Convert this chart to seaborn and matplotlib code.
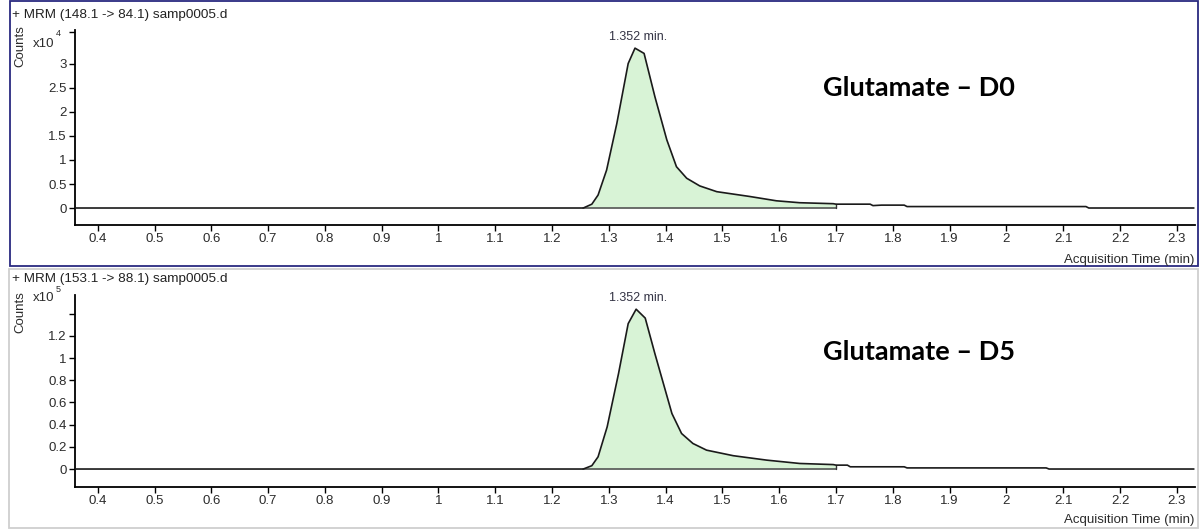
import matplotlib
matplotlib.use("Agg")
import matplotlib.pyplot as plt
import seaborn as sns
import numpy as np
import pandas as pd
from matplotlib.patches import Rectangle
from matplotlib.ticker import FixedLocator, FuncFormatter

# ---------------- data ----------------
titles = ["+ MRM (148.1 -> 84.1) samp0005.d", "+ MRM (153.1 -> 88.1) samp0005.d"]
labels = ["Glutamate \u2013 D0", "Glutamate \u2013 D5"]
exponents = ["4", "5"]
peak_label = "1.352 min."
peak_time = 1.352

time_d0 = [0.36, 1.255, 1.27, 1.281, 1.296, 1.314, 1.334, 1.346, 1.362, 1.381, 1.402,
           1.419, 1.437, 1.46, 1.49, 1.548, 1.595, 1.636, 1.695, 1.70, 1.76, 1.765,
           1.78, 1.82, 1.825, 2.14, 2.145, 2.33]
counts_d0 = [0, 0, 0.08, 0.27, 0.79, 1.76, 3.01, 3.33, 3.22, 2.32, 1.42,
             0.86, 0.62, 0.46, 0.34, 0.24, 0.15, 0.11, 0.09, 0.08, 0.08, 0.05,
             0.06, 0.06, 0.03, 0.03, 0, 0]  # x10^4

time_d5 = [0.36, 1.255, 1.27, 1.281, 1.297, 1.317, 1.334, 1.348, 1.364, 1.381, 1.396,
           1.411, 1.428, 1.448, 1.472, 1.519, 1.578, 1.636, 1.695, 1.70, 1.72, 1.725,
           1.82, 1.825, 2.07, 2.075, 2.33]
counts_d5 = [0, 0, 0.03, 0.11, 0.38, 0.86, 1.31, 1.44, 1.36, 1.04, 0.77,
             0.50, 0.32, 0.23, 0.17, 0.12, 0.08, 0.05, 0.04, 0.035, 0.035, 0.02,
             0.02, 0.01, 0.01, 0, 0]  # x10^5

integration_window = (1.255, 1.70)

xticks = [0.4, 0.5, 0.6, 0.7, 0.8, 0.9, 1.0, 1.1, 1.2, 1.3, 1.4, 1.5, 1.6, 1.7,
          1.8, 1.9, 2.0, 2.1, 2.2, 2.3]
yticks_d0 = [0, 0.5, 1, 1.5, 2, 2.5, 3]
yticks_d5 = [0, 0.2, 0.4, 0.6, 0.8, 1.0, 1.2]
extra_tick_d0 = [3.67]
extra_tick_d5 = [1.4]
xlim = (0.36, 2.332)
ylims = [(-0.354, 3.708), (-0.162, 1.568)]

# ---------------- style ----------------
sns.set_style("white")
plt.rcParams["font.family"] = ["Liberation Sans", "DejaVu Sans"]

W, H = 1204, 530
fig = plt.figure(figsize=(W / 100, H / 100), dpi=100)


def fx(x):
    return x / W


def fy(y):
    return 1 - y / H


TXT = "#2b2b2b"
FILL = "#d8f3d6"
LINE = "#1a1a1a"

# panel frames
fig.add_artist(Rectangle((fx(10), fy(266)), fx(1198) - fx(10), fy(1) - fy(266),
                         transform=fig.transFigure, fill=False, ec="#2a2a80", lw=1.3))
fig.add_artist(Rectangle((fx(9), fy(528)), fx(1198) - fx(9), fy(269) - fy(528),
                         transform=fig.transFigure, fill=False, ec="#cfcfcf", lw=1.3))

panels = [
    dict(t=time_d0, v=counts_d0, yt=yticks_d0, ext=extra_tick_d0, ylim=ylims[0],
         top=30, bottom=225),
    dict(t=time_d5, v=counts_d5, yt=yticks_d5, ext=extra_tick_d5, ylim=ylims[1],
         top=295, bottom=487),
]
text_rows = [
    dict(title=15, counts=46, x10=44, sup=33, xlab=260, glu=88),
    dict(title=279, counts=312, x10=298, sup=290, xlab=520, glu=352),
]


def fmt(v, pos):
    s = f"{v:.1f}"
    if s.endswith(".0"):
        s = s[:-2]
    return s


for i, p in enumerate(panels):
    ax = fig.add_axes([fx(75), fy(p["bottom"]), fx(1195) - fx(75),
                       fy(p["top"]) - fy(p["bottom"])])
    df = pd.DataFrame({"time": p["t"], "counts": p["v"]})
    t = np.array(p["t"])
    v = np.array(p["v"])
    m = (t >= integration_window[0]) & (t <= integration_window[1])
    ax.fill_between(t[m], 0, v[m], color=FILL, lw=0, zorder=1)
    ax.plot([t[m][0], t[m][-1]], [0, 0], color="#555555", lw=1.2, zorder=2)
    ax.plot([t[m][-1], t[m][-1]], [0, v[m][-1]], color="#333333", lw=1.0, zorder=2)
    sns.lineplot(data=df, x="time", y="counts", sort=False, ax=ax, color=LINE,
                 lw=1.2, zorder=3, estimator=None)

    ax.set_xlim(*xlim)
    ax.set_ylim(*p["ylim"])
    ax.set_xlabel("")
    ax.set_ylabel("")
    for s in ["top", "right"]:
        ax.spines[s].set_visible(False)
    for s in ["left", "bottom"]:
        ax.spines[s].set_color("black")
        ax.spines[s].set_linewidth(1.3)
    ax.xaxis.set_major_locator(FixedLocator(xticks))
    ax.xaxis.set_major_formatter(FuncFormatter(fmt))
    ax.yaxis.set_major_locator(FixedLocator(p["yt"]))
    ax.yaxis.set_major_formatter(FuncFormatter(fmt))
    ax.yaxis.set_minor_locator(FixedLocator(p["ext"]))
    ax.tick_params(axis="both", which="both", direction="out", length=4, width=1.0,
                   color="black", labelsize=9.5, labelcolor=TXT, pad=2,
                   bottom=True, left=True)
    ax.tick_params(axis="y", which="minor", length=4)
    ax.patch.set_alpha(0)

    k = int(np.argmax(v))
    ax.annotate(peak_label, xy=(peak_time, v[k]), xytext=(0, 4),
                textcoords="offset points", ha="center", va="bottom",
                fontsize=9, color="#333344")

    r = text_rows[i]
    fig.text(fx(12), fy(r["title"]), titles[i], ha="left", va="center",
             fontsize=9.7, color="#222222")
    fig.text(fx(20), fy(r["counts"]), "Counts", ha="center", va="center",
             rotation=90, fontsize=9.5, color=TXT)
    fig.text(fx(33), fy(r["x10"]), "x10", ha="left", va="center",
             fontsize=9.5, color=TXT)
    fig.text(fx(56), fy(r["sup"]), exponents[i], ha="left", va="center",
             fontsize=6.5, color=TXT)
    fig.text(fx(1194), fy(r["xlab"]), "Acquisition Time (min)", ha="right",
             va="center", fontsize=9.5, color=TXT)
    fig.text(fx(823), fy(r["glu"]), labels[i], ha="left", va="center",
             fontsize=19.5, fontweight="bold", color="black",
             family=["Lato", "DejaVu Sans"])

fig.savefig("out.png", dpi=100, facecolor="white")
